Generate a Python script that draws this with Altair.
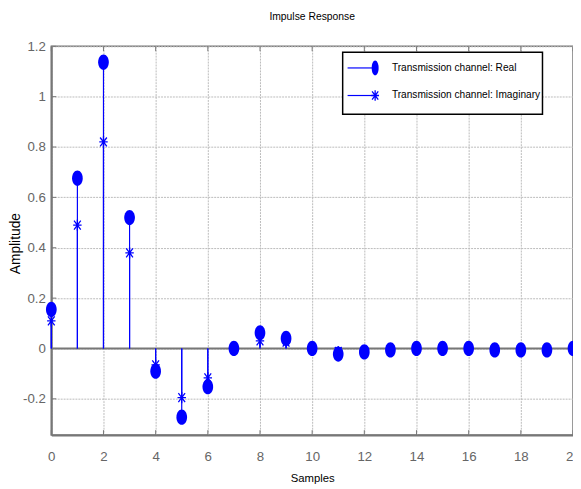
import altair as alt
import pandas as pd

samples = list(range(21))
real_vals = [0.155, 0.676, 1.137, 0.52, -0.09, -0.273, -0.152, 0.0, 0.062, 0.04, 0.0,
             -0.022, -0.014, -0.006, 0.0, 0.0, 0.0, -0.006, -0.006, -0.006, 0.0]
imag_vals = [0.11, 0.49, 0.82, 0.38, -0.065, -0.195, -0.117, 0.0, 0.03, 0.025, 0.0,
             -0.012, -0.01, -0.004, 0.0, 0.0, 0.0, -0.004, -0.004, -0.004, 0.0]
x_ticks = [0, 2, 4, 6, 8, 10, 12, 14, 16, 18, 20]
y_ticks = [-0.2, 0, 0.2, 0.4, 0.6, 0.8, 1, 1.2]
series_names = ["Transmission channel: Real", "Transmission channel: Imaginary"]

df_real = pd.DataFrame({"n": samples, "v": real_vals})
df_imag = pd.DataFrame({"n": samples, "v": imag_vals})
df_xt = pd.DataFrame({"n": x_ticks})
df_yt = pd.DataFrame({"v": y_ticks})

W, H = 530, 395
FONT = "Liberation Sans, Arial, sans-serif"
BLUE = "#0000ff"
GRAY = "#777777"

ELLIPSE = "M0,-1A0.7,1 0 1,1 0,1A0.7,1 0 1,1 0,-1Z"
ASTER = "M-0.75,0L0.75,0M0,-1L0,1M-0.6,-0.8L0.6,0.8M-0.6,0.8L0.6,-0.8"
LEG_ELLIPSE = "M0,-1A0.47,1 0 1,1 0,1A0.47,1 0 1,1 0,-1Z"

xs = alt.Scale(domain=[0, 20], nice=False, zero=False)
ys = alt.Scale(domain=[-0.344, 1.2], nice=False, zero=False)

X_AX = alt.Axis(values=x_ticks, title="Samples", grid=True, gridColor="#bbbbbb",
                gridDash=[2, 1], gridWidth=1, ticks=False, domainColor=GRAY,
                domainWidth=2, labelFont=FONT, labelFontSize=13.5, labelColor="#666666",
                labelPadding=15, titleFont=FONT, titleFontSize=11.5, titleFontWeight="normal",
                titleColor="#000000", titleBaseline="top", titleY=38, labelFlush=False)
Y_AX = alt.Axis(values=y_ticks, title="Amplitude", grid=True, gridColor="#bbbbbb",
                gridDash=[2, 1], gridWidth=1, ticks=False, domainColor=GRAY,
                domainWidth=2, labelFont=FONT, labelFontSize=13.5, labelColor="#666666",
                labelPadding=6, labelExpr="'' + datum.value", titleFont=FONT,
                titleFontSize=14, titleFontWeight="normal", titleColor="#000000",
                titleX=-29, titleY=200, labelFlush=False)


def X(f="n"):
    return alt.X(f"{f}:Q", scale=xs, axis=X_AX)


def Y(f="v"):
    return alt.Y(f"{f}:Q", scale=ys, axis=Y_AX)


zero_line = alt.Chart(df_xt.head(1)).mark_rule(color=GRAY, strokeWidth=2).encode(
    y=alt.Y("z:Q", scale=ys, axis=Y_AX)
).transform_calculate(z="0")

x_tick_b = alt.Chart(df_xt).mark_rule(color=GRAY, strokeWidth=1).encode(
    x=X(), y=alt.value(H), y2=alt.value(H - 5))
x_tick_t = alt.Chart(df_xt).mark_rule(color=GRAY, strokeWidth=1).encode(
    x=X(), y=alt.value(0), y2=alt.value(5))
y_tick_l = alt.Chart(df_yt).mark_rule(color=GRAY, strokeWidth=1).encode(
    y=Y(), x=alt.value(0), x2=alt.value(5))

stem_real = alt.Chart(df_real).mark_rule(color=BLUE, strokeWidth=1.2).encode(
    x=X(), y=Y(), y2=alt.datum(0))
stem_imag = alt.Chart(df_imag).mark_rule(color=BLUE, strokeWidth=1.2).encode(
    x=X(), y=Y(), y2=alt.datum(0))

pts_imag = alt.Chart(df_imag).mark_point(
    shape=ASTER, size=130, filled=False, color=BLUE, strokeWidth=1.3, opacity=1
).encode(x=X(), y=Y())
pts_real = alt.Chart(df_real).mark_point(
    shape=ELLIPSE, size=240, filled=True, color=BLUE, opacity=1
).encode(x=X(), y=Y())

# legend box (drawn by hand, positions in pixels of the plot area)
one = pd.DataFrame({"k": [0]})
leg_box = alt.Chart(one).mark_rect(fill="#ffffff", stroke="#000000", strokeWidth=1.5).encode(
    x=alt.value(296), x2=alt.value(499), y=alt.value(6), y2=alt.value(69))

legend_layers = [leg_box]
row_y = [22, 50]
markers = [(LEG_ELLIPSE, 225, True), (ASTER, 110, False)]
for name, ry, (shp, sz, fl) in zip(series_names, row_y, markers):
    d = pd.DataFrame({"s": [name]})
    legend_layers.append(alt.Chart(d).mark_rule(color=BLUE, strokeWidth=1.2).encode(
        x=alt.value(301), x2=alt.value(327), y=alt.value(ry)))
    legend_layers.append(alt.Chart(d).mark_point(
        shape=shp, size=sz, filled=fl, color=BLUE, strokeWidth=1.3, opacity=1).encode(
        x=alt.value(329), y=alt.value(ry)))
    legend_layers.append(alt.Chart(d).mark_text(
        align="left", baseline="middle", font=FONT, fontSize=10.3, color="#000000").encode(
        x=alt.value(346), y=alt.value(ry), text="s:N"))

chart = alt.layer(
    zero_line, x_tick_b, x_tick_t, y_tick_l, stem_real, stem_imag, pts_imag, pts_real,
    *legend_layers
).properties(
    width=W, height=H,
    title=alt.TitleParams("Impulse Response", font=FONT, fontSize=10.5,
                          fontWeight="normal", color="#000000", offset=17),
    autosize=alt.AutoSizeParams(type="none"),
    padding={"left": 44, "top": 35, "right": 0, "bottom": 60},
).configure_view(stroke=GRAY, strokeWidth=1.5)

chart.save("out.html", embed_options={"renderer": "svg", "actions": False})
